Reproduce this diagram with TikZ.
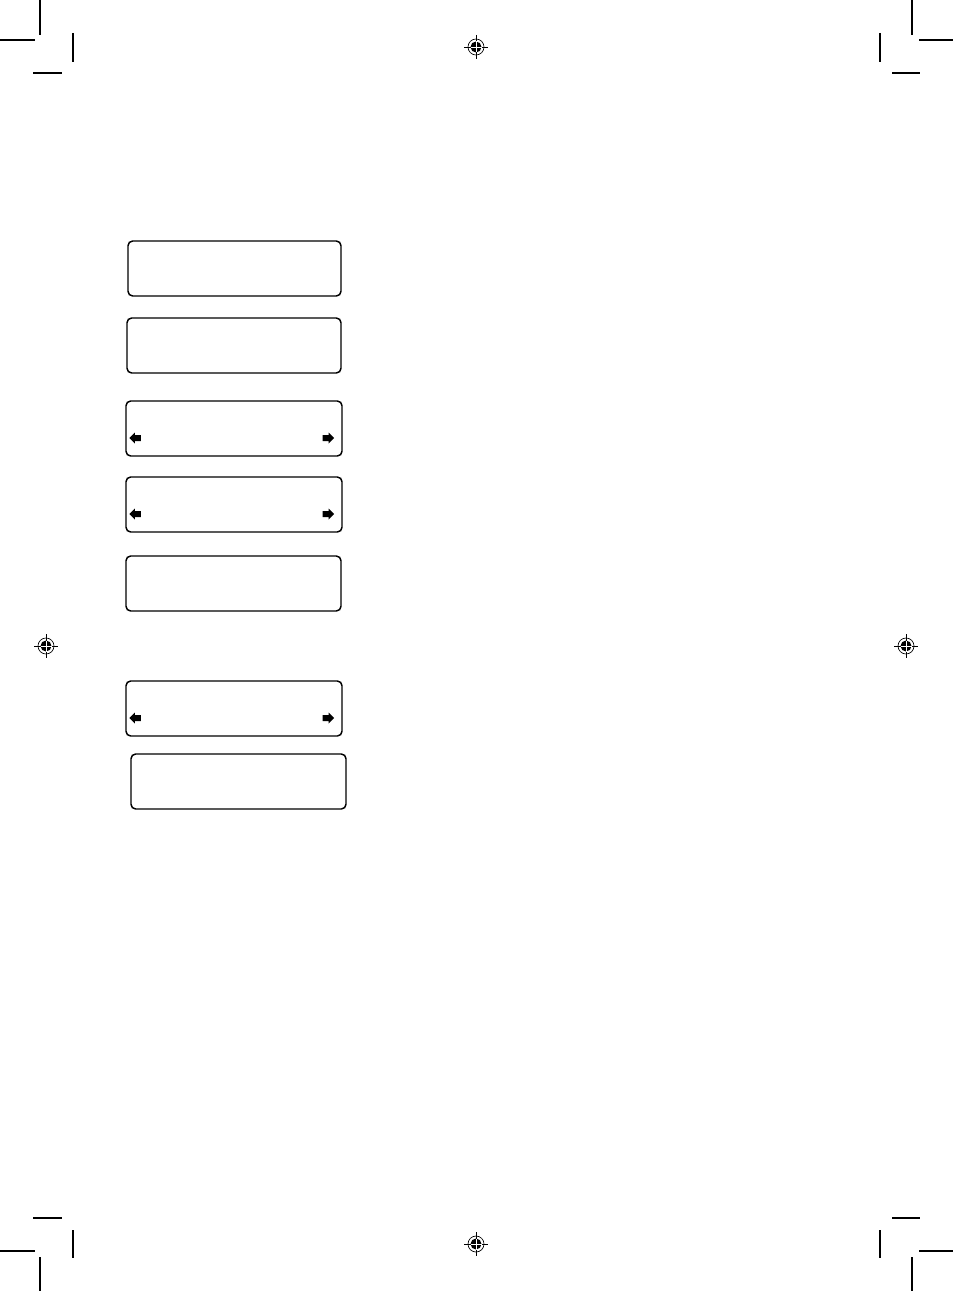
\documentclass[tikz,border=0pt]{standalone}
\begin{document}
\begin{tikzpicture}[x=0.75pt,y=-0.75pt,
  crop/.style={line width=0.8pt},
  lcdbox/.style={draw,rounded corners=3.5pt,line width=1.1pt,inner sep=0pt,minimum height=41.25pt},
  larrow/.pic={\fill (0,0)--(5.5,-5.5)--(5.5,-3)--(11.5,-3)--(11.5,3)--(5.5,3)--(5.5,5.5)--cycle;},
  rarrow/.pic={\fill (0,0)--(-5.5,-5.5)--(-5.5,-3)--(-11.5,-3)--(-11.5,3)--(-5.5,3)--(-5.5,5.5)--cycle;},
  regmark/.pic={
    \draw[line width=0.5pt] (0,0) circle (8);
    \fill (0,0) circle (5.5);
    \draw[line width=0.6pt] (-12,0)--(-5.5,0) (5.5,0)--(12,0) (0,-12)--(0,-5.5) (0,5.5)--(0,12);
    \draw[white,line width=0.6pt] (-5.5,0)--(5.5,0) (0,-5.5)--(0,5.5);
  }]
\useasboundingbox (0,0) rectangle (953,1291);
% crop marks
\draw[crop] (40,0)--(40,35) (0,40)--(35,40) (73,33)--(73,62) (33,73)--(62,73);
\draw[crop] (912,0)--(912,35) (919,40)--(953,40) (880,33)--(880,62) (892,73)--(920,73);
\draw[crop] (40,1257)--(40,1291) (0,1251)--(35,1251) (73,1230)--(73,1258) (33,1218)--(62,1218);
\draw[crop] (912,1257)--(912,1291) (919,1251)--(953,1251) (880,1230)--(880,1258) (892,1218)--(920,1218);
% registration marks
\pic at (476,47) {regmark};
\pic at (476,1244) {regmark};
\pic at (46,646) {regmark};
\pic at (906,646) {regmark};
% boxes
\node[lcdbox,minimum width=159.75pt] (b1) at (234.5,268.5) {};
\node[lcdbox,minimum width=160.5pt] (b2) at (234,345.5) {};
\node[lcdbox,minimum width=162pt] (b3) at (234,428.5) {};
\node[lcdbox,minimum width=162pt] (b4) at (234,504.5) {};
\node[lcdbox,minimum width=161.25pt] (b5) at (233.5,583.5) {};
\node[lcdbox,minimum width=162pt] (b6) at (234,708.5) {};
\node[lcdbox,minimum width=161.25pt] (b7) at (238.5,781.5) {};
% arrows
\pic at ([shift={(4,9.5)}]b3.west) {larrow};
\pic at ([shift={(-8.5,9.5)}]b3.east) {rarrow};
\pic at ([shift={(4,9.5)}]b4.west) {larrow};
\pic at ([shift={(-8.5,9.5)}]b4.east) {rarrow};
\pic at ([shift={(4,9.5)}]b6.west) {larrow};
\pic at ([shift={(-8.5,9.5)}]b6.east) {rarrow};
\end{tikzpicture}
\end{document}
